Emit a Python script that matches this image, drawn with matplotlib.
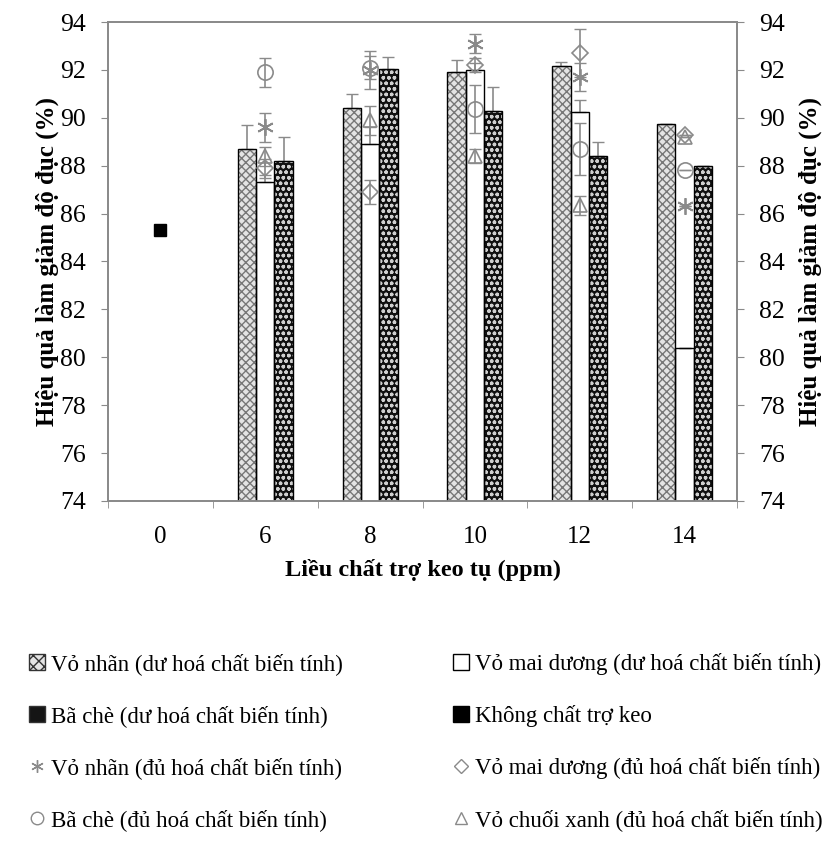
import numpy as np
import matplotlib
matplotlib.use("Agg")
import matplotlib.pyplot as plt
from matplotlib.patches import Patch
from matplotlib.lines import Line2D

plt.rcParams['font.family'] = ['Liberation Serif', 'DejaVu Serif']
plt.rcParams['hatch.linewidth'] = 1.0

nan = np.nan
doses = ['0', '6', '8', '10', '12', '14']

# bars (du hoa chat bien tinh)
vn_du = [nan, 88.7, 90.4, 91.9, 92.15, 89.75]
vn_du_err = [0, 1.0, 0.6, 0.5, 0.2, 0]
md_du = [nan, 87.3, 88.9, 92.0, 90.25, 80.4]
md_du_err = [0, 0.3, 0.7, 0.3, 0.5, 0]
bc_du = [nan, 88.2, 92.05, 90.3, 88.4, 88.0]
bc_du_err = [0, 1.0, 0.5, 1.0, 0.6, 0]

# no coagulant aid
khong = [85.3, nan, nan, nan, nan, nan]

# markers (du hoa chat bien tinh)
vn_du2 = [nan, 89.6, 92.0, 93.1, 91.7, 86.3]
vn_du2_err = [0, 0.6, 0.8, 0.4, 0.6, 0]
md_du2 = [nan, 87.9, 86.9, 92.2, 92.7, 89.3]
md_du2_err = [0, 0.4, 0.5, 0.3, 1.0, 0]
bc_du2 = [nan, 91.9, 92.1, 90.35, 88.7, 87.8]
bc_du2_err = [0, 0.6, 0.5, 1.0, 1.1, 0]
vcx = [nan, 88.4, 89.9, 88.4, 86.35, 89.2]
vcx_err = [0, 0.4, 0.6, 0.3, 0.4, 0]

x = np.arange(len(doses))
w = 0.175
gray = '#8a8a8a'

fig = plt.figure(figsize=(8.34, 8.63), dpi=100)
ax = fig.add_axes([0.1295, 0.4195, 0.7542, 0.555])


def pattern_bar(xpos, vals, err, fc, hc, hatch):
    ax.bar(xpos, vals, w, color=fc, edgecolor=hc, hatch=hatch, linewidth=0, zorder=2)
    ax.bar(xpos, vals, w, facecolor='none', edgecolor='black', linewidth=1.0, zorder=3)
    ax.errorbar(xpos, vals, yerr=[np.zeros(len(err)), err], fmt='none',
                ecolor=gray, elinewidth=1.2, capsize=4, zorder=2.5)


pattern_bar(x - w, vn_du, vn_du_err, '#e4e4e4', '#777777', 'xxxx')
pattern_bar(x, md_du, md_du_err, 'white', 'white', None)
pattern_bar(x + w, bc_du, bc_du_err, '#101010', '#cfcfcf', 'ooo')

ax.plot(x, khong, 's', color='black', ms=9, zorder=5)

mk = dict(fmt='none', ecolor=gray, elinewidth=1.2, capsize=4, zorder=4)
ax.errorbar(x, vn_du2, yerr=vn_du2_err, **mk)
ax.errorbar(x, md_du2, yerr=md_du2_err, **mk)
ax.errorbar(x, bc_du2, yerr=bc_du2_err, **mk)
ax.errorbar(x, vcx, yerr=vcx_err, **mk)
ax.plot(x, vn_du2, ls='none', marker=(6, 2, 0), ms=12, mec=gray, mew=1.3, zorder=5)
ax.plot(x, md_du2, ls='none', marker='D', ms=8, mfc='none', mec=gray, mew=1.2, zorder=5)
ax.plot(x, bc_du2, ls='none', marker='o', ms=11, mfc='none', mec=gray, mew=1.2, zorder=5)
ax.plot(x, vcx, ls='none', marker='^', ms=10, mfc='none', mec=gray, mew=1.2, zorder=5)

ax.set_xlim(-0.5, 5.5)
ax.set_ylim(74, 94)
ax.set_yticks(np.arange(74, 95, 2))
ax.set_xticks(x)
ax.set_xticklabels(doses, fontsize=18)
ax.set_xticks(np.arange(-0.5, 6, 1), minor=True)
ax.tick_params(axis='x', which='major', length=0, pad=18)
ax.tick_params(axis='x', which='minor', length=5, color=gray, direction='out')
ax.tick_params(axis='y', labelsize=18.5, length=5, color=gray, direction='out', pad=11)
for s in ax.spines.values():
    s.set_color(gray)
    s.set_linewidth(1.3)

ax2 = ax.twinx()
ax2.set_ylim(74, 94)
ax2.set_yticks(np.arange(74, 95, 2))
ax2.tick_params(axis='y', labelsize=18.5, length=5, color=gray, direction='out', pad=11)
for s in ax2.spines.values():
    s.set_color(gray)
    s.set_linewidth(1.3)

ylab = 'Hiệu quả làm giảm độ đục (%)'
ax.set_ylabel(ylab, fontsize=18, fontweight='bold', labelpad=1)
ax2.set_ylabel(ylab, fontsize=18, fontweight='bold', labelpad=10, rotation=90)
ax.set_xlabel('Liều chất trợ keo tụ (ppm)', fontsize=17.5, fontweight='bold', labelpad=8)

sq = dict(linestyle='none', markersize=9)
h_left = [
    Patch(facecolor='#e4e4e4', edgecolor='#333333', hatch='xxx'),
    Patch(facecolor='#151515', edgecolor='#333333'),
    Line2D([], [], marker=(6, 2, 0), color=gray, mew=1.0, **sq),
    Line2D([], [], marker='o', mfc='none', mec=gray, **sq),
]
l_left = ['Vỏ nhãn (dư hoá chất biến tính)', 'Bã chè (dư hoá chất biến tính)',
          'Vỏ nhãn (đủ hoá chất biến tính)', 'Bã chè (đủ hoá chất biến tính)']
h_right = [
    Patch(facecolor='white', edgecolor='black'),
    Patch(facecolor='black', edgecolor='black'),
    Line2D([], [], marker='D', mfc='none', mec=gray, markersize=7, linestyle='none'),
    Line2D([], [], marker='^', mfc='none', mec=gray, **sq),
]
l_right = ['Vỏ mai dương (dư hoá chất biến tính)', 'Không chất trợ keo',
           'Vỏ mai dương (đủ hoá chất biến tính)', 'Vỏ chuối xanh (đủ hoá chất biến tính)']

leg_kw = dict(frameon=False, fontsize=16.5, handlelength=0.7, handleheight=0.7,
              handletextpad=0.25, labelspacing=1.3, borderaxespad=0, borderpad=0)
leg1 = fig.legend(h_left, l_left, loc='upper left', bbox_to_anchor=(0.035, 0.243), **leg_kw)
leg2 = fig.legend(h_right, l_right, loc='upper left', bbox_to_anchor=(0.543, 0.243), **leg_kw)

fig.savefig('out.png', dpi=100)
